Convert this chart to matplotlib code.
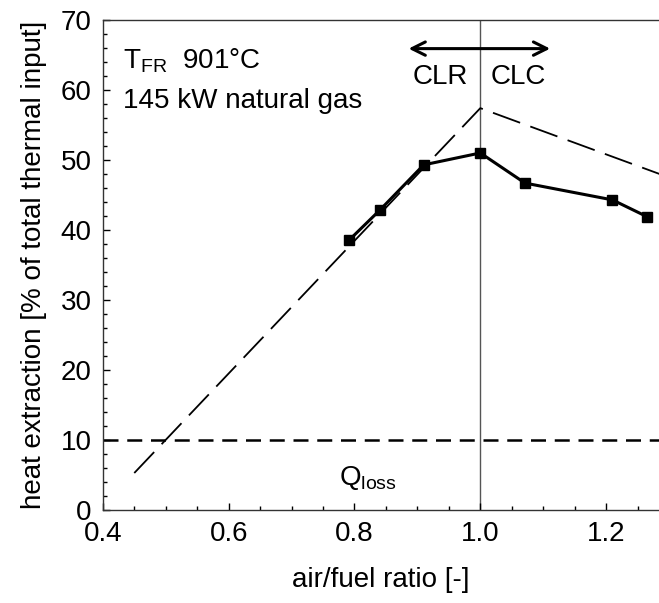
import numpy as np
import matplotlib
matplotlib.use('Agg')
import matplotlib.pyplot as plt

plt.rcParams['font.family'] = ['Liberation Sans', 'DejaVu Sans']
FS = 20

# measured heat extraction
ratio = [0.792, 0.841, 0.910, 1.000, 1.071, 1.210, 1.265]
heat = [38.6, 42.9, 49.3, 51.0, 46.7, 44.3, 41.9]

# theoretical maximum (dashed)
theo_ratio = [0.45, 1.00, 1.30]
theo_heat = [5.3, 57.4, 47.5]

q_loss = 10

fig = plt.figure(figsize=(6.59, 6.03), dpi=100)
ax = fig.add_axes([0.156, 0.154, 0.844, 0.813])

ax.axvline(1.0, color='#555555', lw=1.0, zorder=1)
ax.axhline(q_loss, color='black', lw=1.8, dashes=(6, 3.5), zorder=2)
ax.plot(theo_ratio, theo_heat, color='black', lw=1.3, dashes=(16, 6), zorder=2)
ax.plot(ratio, heat, color='black', lw=2.2, marker='s', markersize=7.5, zorder=3)

ax.annotate('', xy=(0.886, 65.9), xytext=(1.111, 65.9),
            arrowprops=dict(arrowstyle='<->', lw=2.2, color='black',
                            mutation_scale=24, shrinkA=0, shrinkB=0))
ax.text(0.937, 61.9, 'CLR', ha='center', va='center', fontsize=FS)
ax.text(1.061, 61.9, 'CLC', ha='center', va='center', fontsize=FS)
ax.text(0.432, 64.2, r'T$_{\mathregular{FR}}$  901°C', ha='left', va='center', fontsize=FS)
ax.text(0.432, 58.4, '145 kW natural gas', ha='left', va='center', fontsize=FS)
ax.text(0.822, 4.6, r'Q$_{\mathregular{loss}}$', ha='center', va='center', fontsize=FS)

ax.set_xlim(0.4, 1.284)
ax.set_ylim(0, 70)
ax.set_xticks(np.arange(0.4, 1.25, 0.2))
ax.set_xticklabels(['0.4', '0.6', '0.8', '1.0', '1.2'])
ax.set_xticks(np.arange(0.4, 1.3, 0.05), minor=True)
ax.set_yticks(np.arange(0, 71, 10))
ax.set_yticks(np.arange(0, 71, 2), minor=True)
ax.tick_params(which='major', direction='in', length=5, width=1, labelsize=FS, pad=8)
ax.tick_params(which='minor', direction='in', length=3, width=1)
ax.spines['right'].set_visible(False)
for s in ['left', 'top', 'bottom']:
    ax.spines[s].set_linewidth(1.0)
    ax.spines[s].set_color('#333333')

ax.set_xlabel('air/fuel ratio [-]', fontsize=FS, labelpad=14)
ax.set_ylabel('heat extraction [% of total thermal input]', fontsize=FS, labelpad=10)

fig.savefig('out.png', dpi=100)
